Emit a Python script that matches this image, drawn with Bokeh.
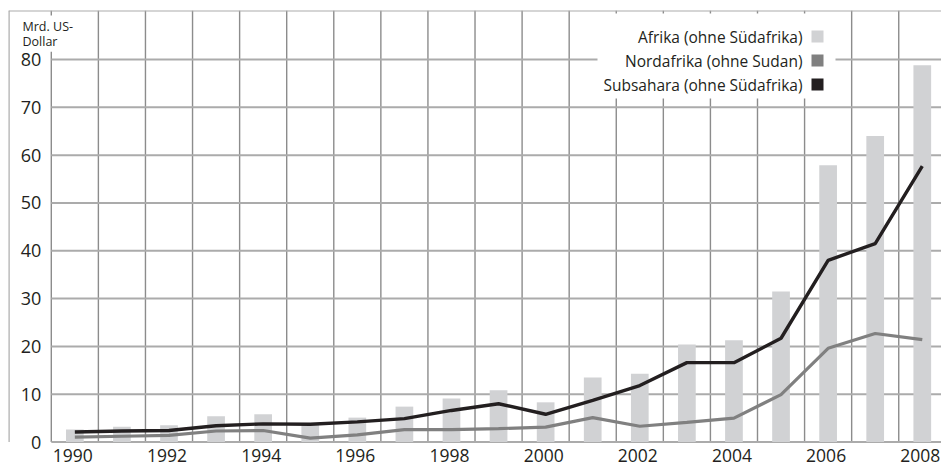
from bokeh.plotting import figure
from bokeh.models import Range1d, Span, Label, BoxAnnotation, ColumnDataSource
from bokeh.core.properties import value
from bokeh.embed import file_html
from bokeh.resources import INLINE

# ---- data ----
years = list(range(1990, 2009))
afrika = [2.6, 3.2, 3.5, 5.4, 5.8, 3.8, 5.1, 7.4, 9.1, 10.8, 8.3, 13.5, 14.3,
          20.4, 21.3, 31.5, 57.9, 64.0, 78.8]
nordafrika = [1.0, 1.2, 1.4, 2.3, 2.4, 0.8, 1.5, 2.6, 2.6, 2.8, 3.1, 5.1, 3.3,
              4.1, 5.0, 9.9, 19.6, 22.7, 21.4]
subsahara = [2.1, 2.3, 2.4, 3.4, 3.8, 3.7, 4.2, 4.9, 6.6, 8.0, 5.8, 8.7, 11.8,
             16.6, 16.6, 21.7, 38.0, 41.5, 57.7]
y_ticks = [0, 10, 20, 30, 40, 50, 60, 70, 80]
x_tick_labels = [1990, 1992, 1994, 1996, 1998, 2000, 2002, 2004, 2006, 2008]
legend_labels = ["Afrika (ohne Südafrika)", "Nordafrika (ohne Sudan)",
                 "Subsahara (ohne Südafrika)"]
unit_label = "Mrd. US-\nDollar"

C_BAR = "#d1d2d4"
C_NORD = "#808080"
C_SUB = "#231f20"
C_VGRID = "#8c8c8c"
C_HGRID = "#ababab"
C_TEXT = "#231f20"
FONT = "Open Sans"

W, H = 941, 465
LEFT, TOP = 8, 10
FRAME_W = W - LEFT
FRAME_H = H - TOP
PX_YEAR = 47.08
PX_UNIT = 4.781
ZERO_FROM_BOTTOM = 23.5   # px between zero line and bottom edge

first_boundary = years[0] - 0.5
boundaries = [y - 0.5 for y in years]
x_start = first_boundary - 42.8 / PX_YEAR
x_end = x_start + FRAME_W / PX_YEAR
y_start = -ZERO_FROM_BOTTOM / PX_UNIT
y_end = y_start + FRAME_H / PX_UNIT

p = figure(width=W, height=H, output_backend="svg", toolbar_location=None,
           x_range=Range1d(x_start, x_end), y_range=Range1d(y_start, y_end),
           min_border_left=LEFT, min_border_right=0, min_border_top=TOP,
           min_border_bottom=0)
p.outline_line_color = None
p.background_fill_color = "white"
p.border_fill_color = "white"
p.xaxis.visible = False
p.yaxis.visible = False
p.grid.visible = False

# vertical grid lines at year boundaries (0 .. top)
p.segment(x0=boundaries, x1=boundaries, y0=[0] * len(boundaries),
          y1=[y_end] * len(boundaries), line_color=C_VGRID, line_width=1.4,
          level="underlay")
# horizontal grid lines starting at first year boundary
p.segment(x0=[first_boundary] * len(y_ticks), x1=[x_end] * len(y_ticks),
          y0=y_ticks, y1=y_ticks, line_color=C_HGRID, line_width=2,
          level="underlay")

# outer border (left, down to zero line, & top)
p.segment(x0=[x_start], x1=[x_start], y0=[0], y1=[y_end],
          line_color=C_HGRID, line_width=2.4, level="underlay")
p.add_layout(Span(location=y_end, dimension="width", line_color=C_HGRID, line_width=2))

# y tick labels
p.text(x=[first_boundary] * len(y_ticks), y=y_ticks, text=[str(t) for t in y_ticks],
       x_offset=-10, text_align="right", text_baseline="middle",
       text_font=value(FONT), text_font_size="18px", text_color=C_TEXT)
# x tick labels
p.text(x=x_tick_labels, y=[0] * len(x_tick_labels), text=[str(t) for t in x_tick_labels],
       x_offset=-2, y_offset=13, text_align="center", text_baseline="middle",
       text_font=value(FONT), text_font_size="17.5px", text_color=C_TEXT)

# bars & lines
src = ColumnDataSource(dict(year=years, afrika=afrika, nord=nordafrika, sub=subsahara))
p.vbar(x="year", top="afrika", width=0.376, bottom=0, source=src,
       fill_color=C_BAR, line_color=None)
p.line(x="year", y="nord", source=src, line_color=C_NORD, line_width=3.2)
p.line(x="year", y="sub", source=src, line_color=C_SUB, line_width=3.4)

# unit label (top-left) with white background
p.add_layout(Label(x=12, y=FRAME_H - 5, x_units="screen", y_units="screen",
                   text=unit_label, text_font=FONT, text_font_size="12.5px",
                   text_baseline="top", text_align="left", text_color=C_TEXT,
                   text_line_height=0.9,
                   background_fill_color="white", padding=2))

# legend (text right-aligned, swatch on the right)
p.add_layout(BoxAnnotation(left=589, right=827, top=FRAME_H - 3, bottom=FRAME_H - 88,
                           left_units="screen", right_units="screen",
                           top_units="screen", bottom_units="screen",
                           fill_color="white", fill_alpha=1, line_color=None))
colors = [C_BAR, C_NORD, C_SUB]
for i, (lab, col) in enumerate(zip(legend_labels, colors)):
    cy = FRAME_H - 26 - 24 * i
    p.add_layout(Label(x=794, y=cy, x_units="screen", y_units="screen", text=lab,
                       text_font=FONT, text_font_size="15.5px", text_align="right",
                       text_baseline="middle", text_color=C_TEXT))
    p.add_layout(BoxAnnotation(left=803, right=815, top=cy + 6, bottom=cy - 6,
                               left_units="screen", right_units="screen",
                               top_units="screen", bottom_units="screen",
                               fill_color=col, fill_alpha=1, line_color=None))

open("out.html", "w").write(file_html(p, INLINE))
